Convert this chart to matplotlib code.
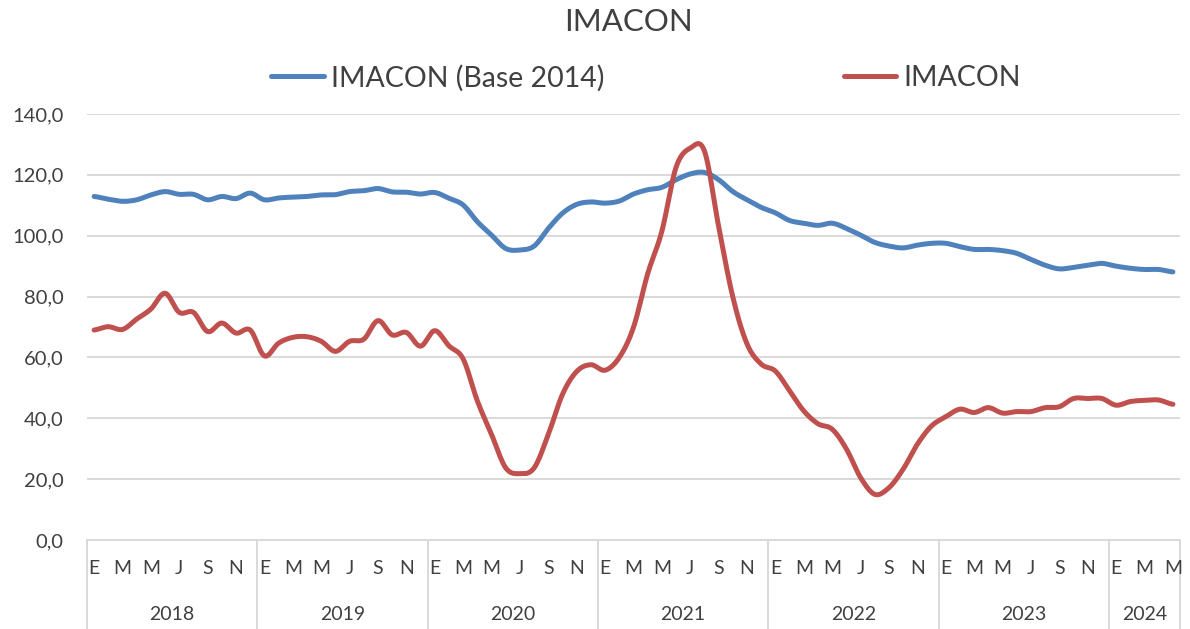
import matplotlib
matplotlib.use('Agg')
import matplotlib.pyplot as plt
import matplotlib.transforms as mtransforms
import numpy as np

# Data (Ene 2018 - May 2024)
anios = ['2018', '2019', '2020', '2021', '2022', '2023', '2024']
meses_por_anio = [12, 12, 12, 12, 12, 12, 5]
etiquetas_mes = ['E', 'M', 'M', 'J', 'S', 'N']   # E, Mar, May, Jul, Sep, Nov

imacon_base2014 = [112.9, 112.0, 111.3, 111.8, 113.4, 114.5, 113.6, 113.6, 111.8, 112.9, 112.2, 114.0,
                   111.8, 112.4, 112.7, 112.9, 113.4, 113.5, 114.5, 114.8, 115.5, 114.4, 114.3, 113.7,
                   114.2, 112.3, 110.1, 104.6, 100.2, 95.8, 95.3, 96.6, 102.4, 107.4, 110.3, 111.1,
                   110.7, 111.4, 113.7, 115.1, 115.9, 118.4, 120.3, 120.8, 118.4, 114.5, 111.8, 109.3,
                   107.5, 105.0, 104.1, 103.4, 104.1, 102.4, 100.2, 97.8, 96.6, 96.0, 96.9, 97.5,
                   97.5, 96.4, 95.5, 95.5, 95.1, 94.2, 92.2, 90.3, 89.1, 89.6, 90.3, 90.9,
                   90.0, 89.3, 88.9, 88.9, 88.1]

imacon = [69.0, 70.1, 69.2, 72.6, 75.9, 81.1, 74.8, 74.8, 68.5, 71.3, 68.0, 69.0,
          60.5, 64.7, 66.6, 66.8, 65.3, 62.0, 65.3, 66.0, 72.1, 67.4, 68.2, 63.7,
          68.8, 63.8, 59.5, 45.7, 34.7, 23.7, 21.8, 23.7, 34.7, 47.9, 55.4, 57.6,
          55.8, 60.0, 69.9, 87.5, 101.5, 122.5, 128.8, 127.8, 103.0, 79.8, 64.4, 57.8,
          55.5, 49.0, 42.4, 38.2, 36.4, 29.9, 20.5, 15.0, 17.2, 23.3, 31.5, 37.5,
          40.5, 43.0, 41.9, 43.5, 41.7, 42.2, 42.2, 43.5, 43.8, 46.5, 46.5, 46.5,
          44.3, 45.5, 45.9, 46.0, 44.6]

AZUL = '#4F81BD'
ROJO = '#C0504D'
GRIS = '#D9D9D9'
TEXTO = '#404040'

plt.rcParams['font.family'] = ['Lato', 'DejaVu Sans']


def suavizar(y, n=12):
    # curva tipo Excel (Catmull-Rom)
    y = np.asarray(y, dtype=float)
    p = np.concatenate([[y[0]], y, [y[-1]]])
    xs, ys = [], []
    t = np.linspace(0, 1, n, endpoint=False)
    for i in range(len(y) - 1):
        p0, p1, p2, p3 = p[i], p[i + 1], p[i + 2], p[i + 3]
        yy = 0.5 * ((2 * p1) + (-p0 + p2) * t + (2 * p0 - 5 * p1 + 4 * p2 - p3) * t ** 2
                    + (-p0 + 3 * p1 - 3 * p2 + p3) * t ** 3)
        xs.extend(i + t)
        ys.extend(yy)
    xs.append(len(y) - 1)
    ys.append(y[-1])
    return np.array(xs), np.array(ys)


fig = plt.figure(figsize=(11.9, 6.29), dpi=100)
ax = fig.add_axes([87 / 1190, 1 - 540 / 629, 1093 / 1190, 426 / 629])

xb, yb = suavizar(imacon_base2014)
xr, yr = suavizar(imacon)
ax.plot(xb, yb, color=AZUL, lw=3.6, solid_capstyle='round', label='IMACON (Base 2014)', zorder=3)
ax.plot(xr, yr, color=ROJO, lw=3.6, solid_capstyle='round', label='IMACON', zorder=3)

n = sum(meses_por_anio)
ax.set_xlim(-0.5, n - 0.5)
ax.set_ylim(0, 140)
ax.set_yticks(range(0, 141, 20))
ax.set_yticklabels([f'{v:.1f}'.replace('.', ',') for v in range(0, 141, 20)])
ax.set_xticks([])
ax.tick_params(axis='y', length=0, pad=17, labelsize=14.5, labelcolor=TEXTO)
ax.yaxis.grid(True, color=GRIS, lw=1.4, zorder=0)
for s in ax.spines.values():
    s.set_visible(False)

# eje de categorías agrupado
tr = mtransforms.blended_transform_factory(ax.transData, ax.transAxes)
ax.plot([-0.5, n - 0.5], [0, 0], color=GRIS, lw=1.4, transform=tr, clip_on=False)
inicio = 0
bordes = [-0.5]
for anio, m in zip(anios, meses_por_anio):
    for k in range(0, m, 2):
        ax.text(inicio + k, -0.066, etiquetas_mes[k // 2], transform=tr, ha='center', va='center',
                fontsize=14, color=TEXTO)
    ax.text(inicio + (m - 1) / 2, -0.174, anio, transform=tr, ha='center', va='center',
            fontsize=14, color=TEXTO)
    inicio += m
    bordes.append(inicio - 0.5)
for b in bordes:
    ax.plot([b, b], [0, -0.21], color=GRIS, lw=1.4, transform=tr, clip_on=False)

fig.text(0.528, 0.965, 'IMACON', ha='center', va='center', fontsize=22.5, color=TEXTO)
fig.legend(loc='center', bbox_to_anchor=(0.543, 0.876), ncol=2, frameon=False,
           fontsize=20.5, handlelength=1.85, handletextpad=0.25, columnspacing=8.4,
           labelcolor=TEXTO)

fig.savefig('out.png', dpi=100, facecolor='white')
